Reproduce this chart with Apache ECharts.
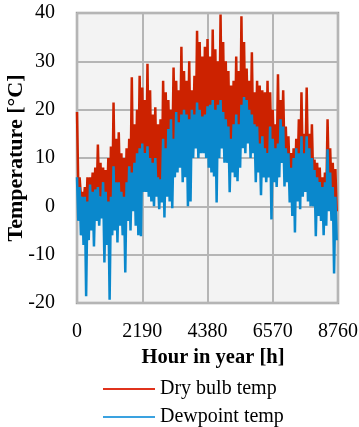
<!DOCTYPE html>
<html>
<head>
<meta charset="utf-8">
<script src="https://cdn.jsdelivr.net/npm/echarts@6/dist/echarts.min.js"></script>
<style>
html,body{margin:0;padding:0;background:#fff;}
#chart{width:359px;height:427px;}
</style>
</head>
<body>
<div id="chart"></div>
<script>
// Sampling: 100 high/low pairs across the year (each pair ~87.6 h)
const hourStep = 43.8;
const xTicks = [0, 2190, 4380, 6570, 8760];
const yTicks = [-20, -10, 0, 10, 20, 30, 40];

const dryHigh = [
  19.5, 6, 3, 4, 6, 6, 7, 8, 12.8, 9,
  8, 7.5, 10, 12.4, 21.5, 14, 15.3, 11, 10, 12,
  14, 26.7, 17, 20, 27, 24.6, 22, 29.5, 24, 19,
  20.5, 17, 18, 26, 23.6, 22, 20, 28.7, 26, 24,
  33, 28, 26, 30, 24, 27, 36.3, 34, 31, 33,
  34.6, 31, 36.6, 32.5, 30, 39.7, 34, 30, 28, 25,
  26, 31, 28, 39.3, 34, 28.5, 26, 31.9, 23.6, 26,
  25, 24, 23.6, 26, 23.6, 20, 17, 27.3, 22, 24,
  16.5, 14.5, 11, 12, 14, 18, 23.6, 15, 24.6, 15,
  17, 9.7, 9, 8, 6, 7, 18, 12, 9, 7.7
];
const dryLow = [
  4, 2, 0, -2, 0, 2, 1, 1, 2, 0,
  1, 0, -4, 0, 3, 2, 2, 0, -1, 2,
  5, 4, 5, 6, 7, 8, 6, 7, 6, 5,
  5, 3, 3, 8, 7, 9, 10, 10, 12, 12,
  12, 13, 12, 11, 14, 14, 15, 15, 14, 14,
  14, 14, 14, 13, 14, 16, 14, 13, 11, 10,
  11, 12, 12, 15, 16, 16, 14, 14, 12, 11,
  9, 10, 9, 9, 10, 9, 8, 9, 12, 10,
  8, 6, 4, 3, 6, 5, 8, 7, 8, 6,
  5, 2, 2, 1, 0, 1, 5, 3, 0, -1
];
const dewHigh = [
  6, 4, 2, 2, 1, 4.5, 3, 3.5, 4, 2,
  5, 3, 1, 2, 8.3, 5, 5, 3, 2, 5,
  8.3, 7, 9, 11, 12, 13, 11, 12.4, 10, 9,
  10, 6, 5.6, 14, 12, 16, 18, 14, 19.5, 17.4,
  19, 20, 19, 18, 20, 19, 21.5, 20, 18.6, 19,
  20.7, 21, 22, 20, 21, 22, 19.5, 18, 16.5, 14,
  17, 19, 17, 21, 22.6, 22, 20, 19, 17, 16.5,
  13, 14.5, 12, 11, 16.5, 14, 12, 13, 18, 16.5,
  12, 11, 8, 10, 12, 11, 14.5, 11, 14.5, 12,
  10, 7.5, 6, 5, 4, 5, 11.8, 7, 4, 2
];
const dewLow = [
  -3, -6, -8, -18.6, -7, -5, -8.3, -3, -4, -2.5,
  -11.6, -8, -19.3, -6, -5, -7.5, -4, -6, -13.7, -3,
  -5, -1, -4, -6, -6.2, 3, 3, 2, 1, 0,
  2, -0.6, 0.8, -2.3, 2, 1, -0.4, 6, 7, 8,
  5, 6, 0, 1, 10, 12, 10, 11, 11, 10,
  8, 7, 6.2, 0.8, 10, 12, 9, 9, 2.9, 7,
  6, 5.2, 8, 12, 11, 13, 10, 11, 5, 7,
  2.3, 6, 5, 6, -2.7, 5, 4, 6, 9, 4.1,
  5, 0.8, -2, -5.4, 1, -0.6, 2, 3, 1, 0,
  0, -6.2, -2, -3, -6, -4, -1, -3, -13.9, -7
];

function zigzag(highs, lows) {
  const d = [];
  for (let k = 0; k < highs.length; k++) {
    d.push([2 * k * hourStep, highs[k]]);
    d.push([(2 * k + 1) * hourStep, lows[k]]);
  }
  return d;
}

const font = 'Liberation Serif, Times New Roman, serif';
const legendCommon = {
  orient: 'horizontal', left: 98,
  icon: 'rect', itemWidth: 52, itemHeight: 2,
  textStyle: {fontFamily: font, fontSize: 20, color: '#000'},
  selectedMode: false
};
const chart = echarts.init(document.getElementById('chart'), null, {renderer: 'canvas'});
chart.setOption({
  animation: false,
  backgroundColor: '#ffffff',
  grid: {
    left: 77, right: 21, top: 13, bottom: 124,
    outerBoundsMode: 'none', containLabel: false,
    show: true, backgroundColor: '#f3f3f3', borderColor: '#a0a0a0', borderWidth: 2.5
  },
  xAxis: {
    type: 'value', min: xTicks[0], max: xTicks[xTicks.length - 1], interval: 2190,
    name: 'Hour in year [h]', nameLocation: 'middle', nameGap: 44, nameMoveOverlap: false,
    nameTextStyle: {fontFamily: font, fontSize: 20.5, fontWeight: 'bold', color: '#000', padding: [0, 0, 0, 11]},
    axisLine: {show: false}, axisTick: {show: false},
    axisLabel: {fontFamily: font, fontSize: 20, color: '#000', margin: 19, formatter: v => String(v)},
    splitLine: {show: true, lineStyle: {color: '#b5b5b5', width: 2}}
  },
  yAxis: {
    type: 'value', min: yTicks[0], max: yTicks[yTicks.length - 1], interval: 10,
    name: 'Temperature [°C]', nameLocation: 'middle', nameGap: 50, nameRotate: 90, nameMoveOverlap: false,
    nameTextStyle: {fontFamily: font, fontSize: 22, fontWeight: 'bold', color: '#000'},
    axisLine: {show: false}, axisTick: {show: false},
    axisLabel: {fontFamily: font, fontSize: 20, color: '#000', margin: 22, formatter: v => String(v)},
    splitLine: {show: true, lineStyle: {color: '#b5b5b5', width: 2}}
  },
  legend: [
    Object.assign({}, legendCommon, {top: 374, data: [{name: 'Dry bulb temp', itemStyle: {color: '#e0321c'}}]}),
    Object.assign({}, legendCommon, {top: 402, data: [{name: 'Dewpoint temp', itemStyle: {color: '#3aa2e0'}}]})
  ],
  series: [
    {
      name: 'Dry bulb temp', type: 'line', symbol: 'none', showSymbol: false,
      data: zigzag(dryHigh, dryLow),
      lineStyle: {color: '#cc2200', width: 2.5}, itemStyle: {color: '#cc2200'}
    },
    {
      name: 'Dewpoint temp', type: 'line', symbol: 'none', showSymbol: false,
      data: zigzag(dewHigh, dewLow),
      lineStyle: {color: '#0a88cc', width: 2.5}, itemStyle: {color: '#0a88cc'}
    }
  ]
});
</script>
</body>
</html>
